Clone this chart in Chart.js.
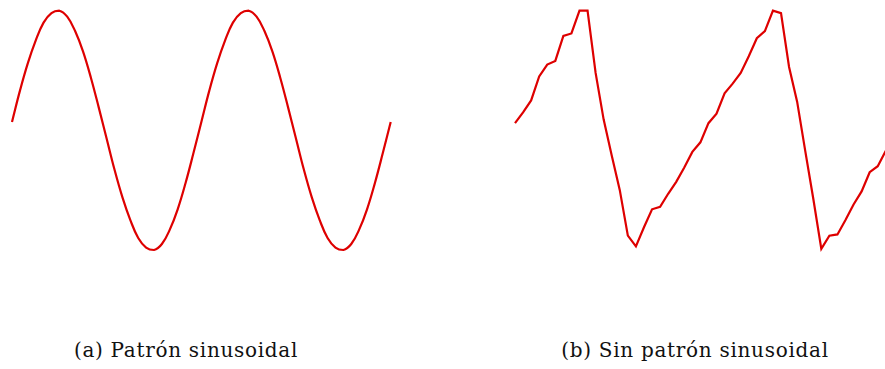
<!DOCTYPE html>
<html>
<head>
<meta charset="utf-8">
<script src="https://cdn.jsdelivr.net/npm/chart.js@4.4.1/dist/chart.umd.min.js"></script>
<style>
  html, body { margin: 0; padding: 0; background: #fff; width: 885px; height: 369px; overflow: hidden; }
  #wrap { position: relative; width: 885px; height: 369px; overflow: hidden; }
  canvas { position: absolute; top: 0; }
  #cA { left: 0; }
  #cB { left: 500px; }
  .cap { position: absolute; top: 339px; font-family: "DejaVu Serif", serif; font-size: 20px; letter-spacing: 0.7px; color: #111; white-space: nowrap; transform: translateX(-50%); line-height: 22px; }
</style>
</head>
<body>
<div id="wrap">
  <canvas id="cA" width="400" height="262"></canvas>
  <canvas id="cB" width="400" height="262"></canvas>
  <div class="cap" id="capA" style="left:186px">(a) Patrón sinusoidal</div>
  <div class="cap" id="capB" style="left:695px">(b) Sin patrón sinusoidal</div>
</div>
<script>
// Panel (a): regular signal, two full cycles
const sineValues = [
  0.07, 0.33, 0.56, 0.75, 0.90, 0.98, 1.00, 0.95, 0.83, 0.66, 0.44, 0.19,
  -0.07, -0.33, -0.56, -0.75, -0.90, -0.98, -1.00, -0.95, -0.83, -0.66, -0.44, -0.19,
  0.07, 0.33, 0.56, 0.75, 0.90, 0.98, 1.00, 0.95, 0.83, 0.66, 0.44, 0.19,
  -0.07, -0.33, -0.56, -0.75, -0.90, -0.98, -1.00, -0.95, -0.83, -0.66, -0.44, -0.19,
  0.07
];

// Panel (b): irregular, sawtooth-like signal
const irregularValues = [
  0.06, 0.15, 0.25, 0.45, 0.55, 0.58, 0.79, 0.81, 1.00, 1.00,
  0.48, 0.09, -0.21, -0.50, -0.88, -0.97, -0.81, -0.66, -0.64, -0.53,
  -0.43, -0.31, -0.18, -0.10, 0.06, 0.14, 0.31, 0.39, 0.48, 0.62,
  0.77, 0.83, 1.00, 0.98, 0.53, 0.24, -0.17, -0.57, -0.99, -0.88,
  -0.87, -0.75, -0.62, -0.51, -0.35, -0.30, -0.17
];

const lineColor = 'rgb(222,0,0)';

function points(values) {
  return values.map((v, i) => ({ x: i, y: v }));
}

function makeChart(id, values, smooth, pad) {
  return new Chart(document.getElementById(id), {
    type: 'line',
    data: {
      datasets: [{
        data: points(values),
        borderColor: lineColor,
        borderWidth: 2.2,
        pointRadius: 0,
        fill: false,
        clip: false,
        tension: smooth ? 0.4 : 0
      }]
    },
    options: {
      responsive: false,
      animation: false,
      layout: { padding: pad },
      plugins: { legend: { display: false }, tooltip: { enabled: false }, title: { display: false } },
      scales: {
        x: { type: 'linear', display: false, min: 0, max: values.length - 1 },
        y: { display: false, min: -1, max: 1 }
      }
    }
  });
}

makeChart('cA', sineValues, true, { left: 12, right: 9.3, top: 10.7, bottom: 12 });
makeChart('cB', irregularValues, false, { left: 15, right: 14.2, top: 10.7, bottom: 12 });
</script>
</body>
</html>
